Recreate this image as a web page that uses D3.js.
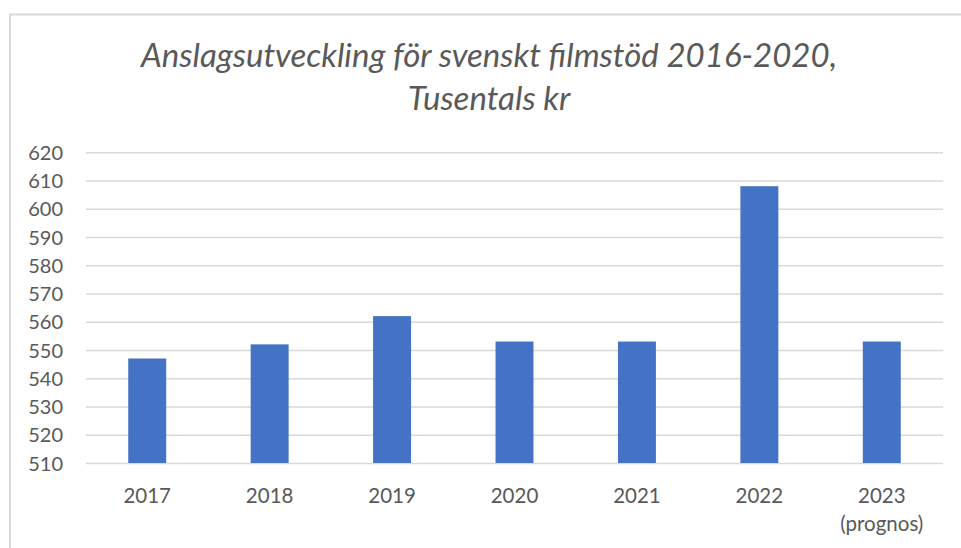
<!DOCTYPE html>
<html><head><meta charset="utf-8">
<script src="https://cdn.jsdelivr.net/npm/d3@7"></script>
<style>
html,body{margin:0;padding:0;background:#fff;}
svg{display:block;}
text{font-family:Lato,"Open Sans",sans-serif;fill:#595959;}
</style></head>
<body>
<svg id="chart" width="961" height="548"></svg>
<script>
const categories = ["2017","2018","2019","2020","2021","2022","2023"];
const subLabels = ["","","","","","","(prognos)"];
const values = [547,552,562,553,553,608,553];
const yTicks = [510,520,530,540,550,560,570,580,590,600,610,620];
const titleLines = ["Anslagsutveckling för svenskt filmstöd 2016-2020,","Tusentals kr"];

const svg = d3.select("#chart");
// chart frame
svg.append("rect").attr("x",10).attr("y",14.5).attr("width",980).attr("height",560)
  .attr("fill","#fff").attr("stroke","#d9d9d9").attr("stroke-width",2);

const m = {left:86, right:943, top:152.3, bottom:463};
const x = d3.scaleBand().domain(categories).range([m.left,m.right]).paddingInner(0.69).paddingOuter(0.345);
const y = d3.scaleLinear().domain([510,620]).range([m.bottom,m.top]);

// gridlines
const yAxis = d3.axisLeft(y).tickValues(yTicks).tickSize(-(m.right-m.left)).tickPadding(23);
const gy = svg.append("g").attr("transform",`translate(${m.left},0)`).call(yAxis);
gy.select(".domain").remove();
gy.selectAll(".tick line").attr("stroke","#d9d9d9").attr("stroke-width",1.5);
gy.selectAll(".tick text").attr("font-size","20px").attr("fill","#595959").attr("dy","0.36em");

// bars
svg.append("g").selectAll("rect").data(values).join("rect")
  .attr("x",(d,i)=>x(categories[i]))
  .attr("y",d=>y(d))
  .attr("width",x.bandwidth())
  .attr("height",d=>y(510)-y(d))
  .attr("fill","#4472c4");

// x axis labels
const xAxis = d3.axisBottom(x).tickSize(0).tickPadding(0);
const gx = svg.append("g").attr("transform",`translate(0,${m.bottom})`).call(xAxis);
gx.select(".domain").remove();
gx.selectAll(".tick text").text(null).attr("dy",null).attr("y",null)
  .attr("font-size","20.5px").attr("fill","#595959")
  .each(function(d,i){
    const t = d3.select(this);
    t.append("tspan").attr("x",0).attr("y",39.5).text(d);
    if(subLabels[i]) t.append("tspan").attr("x",0).attr("y",67.5).text(subLabels[i]);
  });

// title
svg.append("g").selectAll("text").data(titleLines).join("text")
  .attr("x",489).attr("y",(d,i)=>67+i*43)
  .attr("text-anchor","middle")
  .attr("font-style","italic")
  .attr("font-size","33px")
  .attr("fill","#595959")
  .text(d=>d);
</script>
</body></html>
